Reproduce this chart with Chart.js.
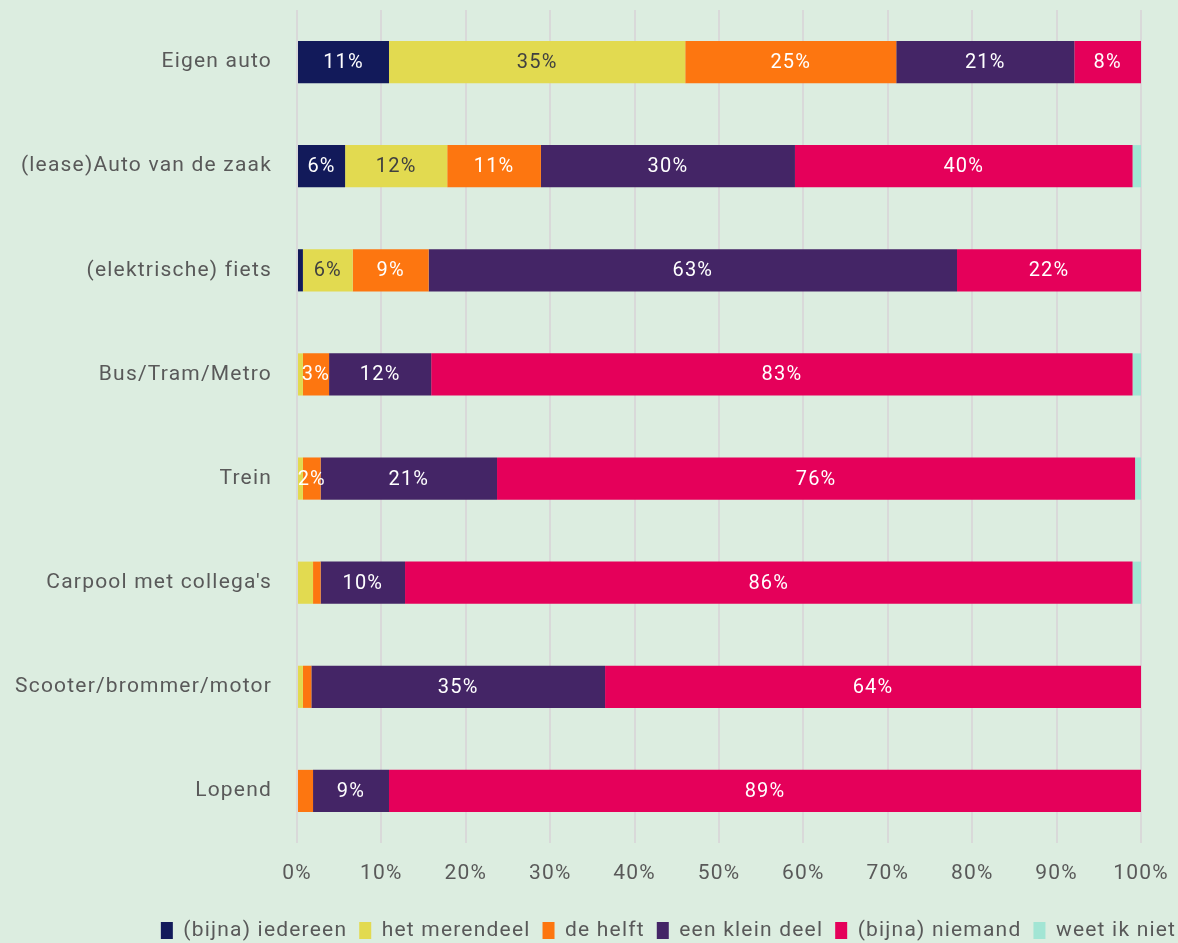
<!DOCTYPE html>
<html>
<head>
<meta charset="utf-8">
<script src="https://cdn.jsdelivr.net/npm/chart.js@4/dist/chart.umd.min.js"></script>
<style>
  html, body { margin: 0; padding: 0; background: #dcede0; }
  #wrap { width: 1178px; height: 943px; position: relative; }
</style>
</head>
<body>
<div id="wrap"><canvas id="chart"></canvas></div>
<script>
// data (percentages)
const categories = ['Eigen auto', '(lease)Auto van de zaak', '(elektrische) fiets', 'Bus/Tram/Metro',
  'Trein', "Carpool met collega's", 'Scooter/brommer/motor', 'Lopend'];
const seriesNames = ['(bijna) iedereen', 'het merendeel', 'de helft', 'een klein deel', '(bijna) niemand', 'weet ik niet'];
const iedereen   = [10.9, 5.7, 0.7, 0,    0,    0,    0,    0];
const merendeel  = [35.1, 12.1, 5.9, 0.7, 0.7,  1.9,  0.7,  0];
const helft      = [25.0, 11.1, 9.0, 3.1, 2.1,  0.9,  1.0,  1.9];
const kleinDeel  = [21.1, 30.1, 62.6, 12.1, 20.9, 10.0, 34.8, 9.0];
const niemand    = [7.9, 40.0, 21.8, 83.1, 75.6, 86.2, 63.5, 89.1];
const weetNiet   = [0,   1.0,  0,    1.0,  0.8,  1.0,  0,    0];
const tickLabels = ['0%', '10%', '20%', '30%', '40%', '50%', '60%', '70%', '80%', '90%', '100%'];

const colors = ['#121a5a', '#e2da50', '#fd7610', '#442566', '#e5005a', '#a2e5d4'];
const labelColors = ['#ffffff', '#404040', '#ffffff', '#ffffff', '#ffffff', '#ffffff'];
const allSeries = [iedereen, merendeel, helft, kleinDeel, niemand, weetNiet];

const FONT = 'Roboto';
const TEXT = '#595959';
const SPACING = '1.2px';

// wider letter spacing, like the original font
const spacing = {
  id: 'spacing',
  beforeUpdate(chart) { chart.ctx.letterSpacing = SPACING; },
  beforeDraw(chart) { chart.ctx.letterSpacing = SPACING; },
  afterLayout(chart) {
    // legend sits a bit right of centre in the original
    chart.legend.left += 98;
    chart.legend.right += 98;
  }
};

// percentage labels inside the bars
const barLabels = {
  id: 'barLabels',
  afterDatasetsDraw(chart) {
    const ctx = chart.ctx;
    ctx.save();
    ctx.font = '20px ' + FONT;
    ctx.textAlign = 'center';
    ctx.textBaseline = 'middle';
    chart.data.datasets.forEach((ds, i) => {
      const meta = chart.getDatasetMeta(i);
      meta.data.forEach((bar, j) => {
        const v = ds.data[j];
        if (v < 2) return;
        ctx.fillStyle = labelColors[i];
        ctx.fillText(Math.round(v) + '%', (bar.x + bar.base) / 2, bar.y + 1);
      });
    });
    ctx.restore();
  }
};

new Chart(document.getElementById('chart'), {
  type: 'bar',
  data: {
    labels: categories,
    datasets: seriesNames.map((name, i) => ({
      label: name,
      data: allSeries[i],
      backgroundColor: colors[i],
      borderWidth: 0,
      categoryPercentage: 1,
      barPercentage: 0.405
    }))
  },
  options: {
    indexAxis: 'y',
    responsive: true,
    maintainAspectRatio: false,
    animation: false,
    layout: { padding: { top: 10, right: 37, left: 0, bottom: -8 } },
    scales: {
      x: {
        stacked: true,
        min: 0,
        max: 100,
        grid: { color: '#d9d9d9', lineWidth: 2, tickLength: 0, drawTicks: false },
        border: { display: false },
        ticks: {
          stepSize: 10,
          padding: 18,
          color: TEXT,
          font: { family: FONT, size: 21 },
          callback: (v, i) => tickLabels[i]
        },
        afterFit(scale) {
          scale.height = 65;
          scale.paddingLeft = 0;
          scale.paddingRight = 0;
        }
      },
      y: {
        stacked: true,
        grid: { display: false },
        border: { display: false },
        ticks: {
          padding: 17,
          color: TEXT,
          font: { family: FONT, size: 21 }
        },
        afterFit(scale) {
          scale.width = 297;
          scale.paddingTop = 0;
          scale.paddingBottom = 0;
        }
      }
    },
    plugins: {
      legend: {
        position: 'bottom',
        labels: {
          color: TEXT,
          font: { family: FONT, size: 21 },
          boxWidth: 12,
          boxHeight: 17,
          padding: 12
        }
      },
      tooltip: { enabled: false }
    }
  },
  plugins: [spacing, barLabels]
});
</script>
</body>
</html>
